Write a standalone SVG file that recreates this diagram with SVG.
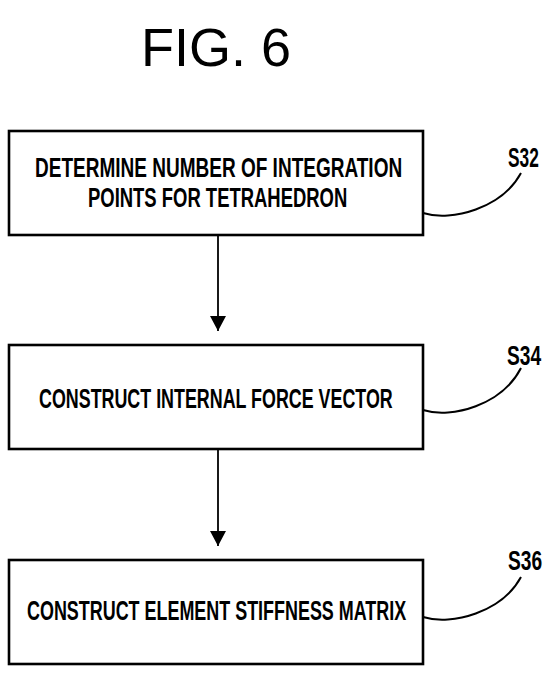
<svg xmlns="http://www.w3.org/2000/svg" width="552" height="673" viewBox="0 0 552 673">
<defs>
<style>
.box{fill:#fff;stroke:#000;stroke-width:2.6}
.t{font-family:"Liberation Sans",Arial,sans-serif;font-size:28px;font-weight:bold;fill:#000}
.lead{fill:none;stroke:#000;stroke-width:2}
.conn{stroke:#000;stroke-width:1.8;fill:none}
.title{font-family:"Liberation Sans",Arial,sans-serif;font-size:54px;fill:#000}
</style>
<marker id="ah" markerWidth="16" markerHeight="15" refX="8" refY="15" orient="0" markerUnits="userSpaceOnUse">
<path d="M0,0 L16,0 L8,15 Z" fill="#000"/>
</marker>
</defs>
<rect width="552" height="673" fill="#fff"/>
<text class="title" x="216" y="66" text-anchor="middle">FIG. 6</text>
<g id="s32">
<rect class="box" x="9" y="131" width="414" height="104"/>
<text class="t" transform="translate(35,177) scale(0.67,1)" textLength="548" lengthAdjust="spacingAndGlyphs">DETERMINE NUMBER OF INTEGRATION</text>
<text class="t" transform="translate(88,207) scale(0.67,1)" textLength="387" lengthAdjust="spacingAndGlyphs">POINTS FOR TETRAHEDRON</text>
<text class="t" transform="translate(508,167) scale(0.67,1)" textLength="46" lengthAdjust="spacingAndGlyphs">S32</text>
<path class="lead" d="M423,213 C452,222 502,208 521,173"/>
</g>
<g id="s34">
<rect class="box" x="9" y="345" width="414" height="104"/>
<text class="t" transform="translate(39,408) scale(0.67,1)" textLength="528" lengthAdjust="spacingAndGlyphs">CONSTRUCT INTERNAL FORCE VECTOR</text>
<text class="t" transform="translate(507,365) scale(0.67,1)" textLength="51" lengthAdjust="spacingAndGlyphs">S34</text>
<path class="lead" d="M423,410 C452,419 502,405 521,368"/>
</g>
<g id="s36">
<rect class="box" x="9" y="560" width="414" height="104"/>
<text class="t" transform="translate(27,620) scale(0.67,1)" textLength="566" lengthAdjust="spacingAndGlyphs">CONSTRUCT ELEMENT STIFFNESS MATRIX</text>
<text class="t" transform="translate(508,570) scale(0.67,1)" textLength="51" lengthAdjust="spacingAndGlyphs">S36</text>
<path class="lead" d="M423,617 C452,626 502,612 521,577"/>
</g>
<g id="connectors">
<line class="conn" x1="218" y1="236" x2="218" y2="331" marker-end="url(#ah)"/>
<line class="conn" x1="218" y1="450" x2="218" y2="546" marker-end="url(#ah)"/>
</g>
</svg>
